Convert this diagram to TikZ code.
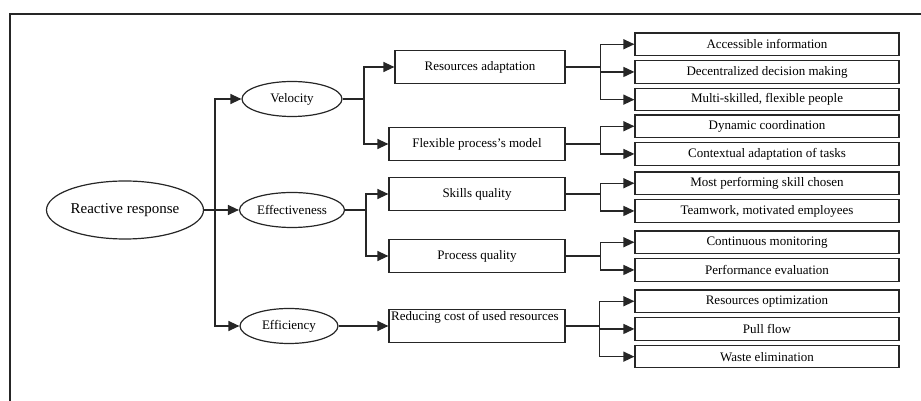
\documentclass[tikz,border=0pt]{standalone}
\usepackage{fontspec}
\setmainfont{Liberation Serif}
\usetikzlibrary{arrows.meta,positioning,shapes.geometric}

\begin{document}
\begin{tikzpicture}[x=1pt, y=1pt,
    node distance=4pt,
    every node/.style={font=\fontsize{13}{15}\selectfont},
    oval/.style={draw=black!85, ellipse, line width=1.2pt, inner sep=0pt},
    midbox/.style={draw=black!85, line width=1.2pt, minimum width=176pt, minimum height=33pt, inner sep=0pt},
    leaf/.style={draw=black!85, line width=1.2pt, minimum width=264pt, minimum height=22.5pt, inner sep=0pt},
    arrow/.style={-{Triangle[length=11pt,width=10pt]}, line width=1.3pt, black!85},
    link/.style={line width=1.3pt, black!85}
]
    \useasboundingbox (0,0) rectangle (921,401);
    \draw[link] (10,0) -- (10,387) -- (921,387);

    \node[oval, minimum width=157pt, minimum height=58pt, font=\fontsize{15}{17}\selectfont] (rr) at (125,191) {Reactive response};
    \node[oval, minimum width=100pt, minimum height=35pt] (vel) at (292,302) {Velocity};
    \node[oval, minimum width=105pt, minimum height=35pt] (eff) at (292,191) {Effectiveness};
    \node[oval, minimum width=98pt, minimum height=35pt] (effi) at (289,75) {Efficiency};

    \node[midbox, minimum width=170pt] (res) at (480,334) {Resources adaptation};
    \node[midbox] (flex) at (477,257) {Flexible process's model};
    \node[midbox] (skq) at (477,207) {Skills quality};
    \node[midbox] (prq) at (477,145) {Process quality};
    \node[midbox, label={[anchor=north west, inner sep=2.5pt]north west:Reducing cost of used resources}] (red) at (477,75) {};

    \node[leaf] (acc) at (767,356.75) {Accessible information};
    \node[leaf, below=of acc] (dec) {Decentralized decision making};
    \node[leaf, below=of dec] (mul) {Multi-skilled, flexible people};
    \node[leaf] (dyn) at (767,274.75) {Dynamic coordination};
    \node[leaf, below=of dyn] (ctx) {Contextual adaptation of tasks};
    \node[leaf] (mps) at (767,217.75) {Most performing skill chosen};
    \node[leaf, below=of mps] (team) {Teamwork, motivated employees};
    \node[leaf] (mon) at (767,158.75) {Continuous monitoring};
    \node[leaf, below=of mon] (perf) {Performance evaluation};
    \node[leaf] (opt) at (767,99.75) {Resources optimization};
    \node[leaf, below=of opt] (pull) {Pull flow};
    \node[leaf, below=of pull] (waste) {Waste elimination};

    \coordinate (trunk) at (215,191);
    \draw[arrow] (rr) -- (eff);
    \draw[arrow] (trunk) |- (vel);
    \draw[arrow] (trunk) |- (effi);

    \coordinate (velsplit) at (364,302);
    \draw[link] (vel) -- (velsplit);
    \draw[arrow] (velsplit) |- (res);
    \draw[arrow] (velsplit) |- (flex);

    \coordinate (effsplit) at (366,191);
    \draw[link] (eff) -- (effsplit);
    \draw[arrow] (effsplit) |- (skq);
    \draw[arrow] (effsplit) |- (prq);

    \draw[arrow] (effi) -- (red);

    \coordinate (ressplit) at ([xshift=35pt]res.east);
    \draw[link] (res) -- (ressplit);
    \draw[arrow] (ressplit) |- (acc);
    \draw[arrow] (ressplit) |- (dec);
    \draw[arrow] (ressplit) |- (mul);

    \coordinate (flexsplit) at ([xshift=35pt]flex.east);
    \draw[link] (flex) -- (flexsplit);
    \draw[arrow] (flexsplit) |- (dyn);
    \draw[arrow] (flexsplit) |- (ctx);

    \coordinate (skqsplit) at ([xshift=35pt]skq.east);
    \draw[link] (skq) -- (skqsplit);
    \draw[arrow] (skqsplit) |- (mps);
    \draw[arrow] (skqsplit) |- (team);

    \coordinate (prqsplit) at ([xshift=35pt]prq.east);
    \draw[link] (prq) -- (prqsplit);
    \draw[arrow] (prqsplit) |- (mon);
    \draw[arrow] (prqsplit) |- (perf);

    \coordinate (redsplit) at ([xshift=34pt]red.east);
    \draw[link] (red) -- (redsplit);
    \draw[arrow] (redsplit) |- (opt);
    \draw[arrow] (redsplit) |- (pull);
    \draw[arrow] (redsplit) |- (waste);
\end{tikzpicture}
\end{document}
